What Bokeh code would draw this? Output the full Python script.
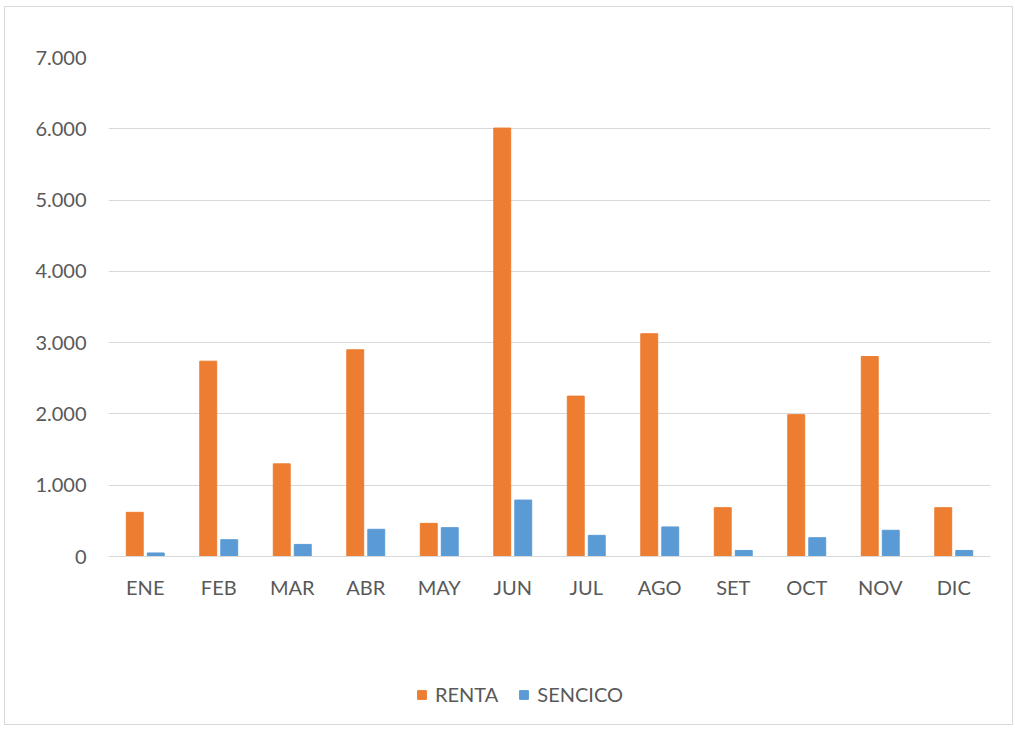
from bokeh.plotting import figure
from bokeh.models import ColumnDataSource, FactorRange, Legend, LegendItem, CustomJSTickFormatter, FixedTicker, Range1d
from bokeh.transform import dodge
from bokeh.embed import file_html
from bokeh.resources import INLINE

months = ["ENE", "FEB", "MAR", "ABR", "MAY", "JUN", "JUL", "AGO", "SET", "OCT", "NOV", "DIC"]
renta = [620, 2740, 1300, 2900, 465, 6010, 2250, 3125, 685, 1990, 2805, 685]
sencico = [50, 236, 170, 382, 405, 792, 297, 415, 85, 264, 368, 85]
y_ticks = [0, 1000, 2000, 3000, 4000, 5000, 6000, 7000]

src = ColumnDataSource(dict(m=months, renta=renta, sencico=sencico))

FONT = "Lato"
TXT = "#595959"
FS = "20px"

# frame extends below the zero baseline to leave room for the labels and legend
p = figure(x_range=FactorRange(*months), y_range=Range1d(-2216, 7000),
           width=1009, height=719, output_backend="svg", toolbar_location=None,
           min_border_left=103, min_border_right=24, min_border_top=50, min_border_bottom=12)
p.styles = {"border": "1px solid #d9d9d9", "margin-left": "4px", "margin-top": "6px"}
p.outline_line_color = None

r1 = p.vbar(x=dodge("m", -0.143, range=p.x_range), top="renta", width=0.23, source=src,
            fill_color="#ED7D31", line_color="#ED7D31")
r2 = p.vbar(x=dodge("m", 0.143, range=p.x_range), top="sencico", width=0.23, source=src,
            fill_color="#5B9BD5", line_color="#5B9BD5")

p.yaxis.ticker = FixedTicker(ticks=y_ticks)
p.yaxis.formatter = CustomJSTickFormatter(code="return tick.toFixed(0).replace(/\\B(?=(\\d{3})+(?!\\d))/g, '.');")
p.yaxis.axis_line_color = None
p.yaxis.major_tick_line_color = None
p.yaxis.minor_tick_line_color = None
p.yaxis.major_tick_out = 0
p.yaxis.major_label_text_font = FONT
p.yaxis.major_label_text_font_size = FS
p.yaxis.major_label_text_color = TXT
p.yaxis.major_label_standoff = 22

p.xaxis.fixed_location = 0
p.xaxis.axis_line_color = "#d9d9d9"
p.xaxis.axis_line_width = 1
p.xaxis.major_tick_line_color = None
p.xaxis.minor_tick_line_color = None
p.xaxis.major_tick_out = 0
p.xaxis.major_label_text_font = FONT
p.xaxis.major_label_text_font_size = FS
p.xaxis.major_label_text_color = TXT
p.xaxis.major_label_standoff = 18

p.xgrid.grid_line_color = None
p.ygrid.grid_line_color = "#d9d9d9"
p.ygrid.grid_line_width = 1
p.ygrid.ticker = FixedTicker(ticks=y_ticks)

legend = Legend(items=[LegendItem(label="RENTA", renderers=[r1]),
                       LegendItem(label="SENCICO", renderers=[r2])],
                orientation="horizontal", location=(308, 8),
                glyph_width=11, glyph_height=11, label_text_font=FONT,
                label_text_font_size=FS, label_text_color=TXT,
                border_line_color=None, background_fill_alpha=0,
                padding=0, margin=0, spacing=20, label_standoff=8)
p.add_layout(legend, "center")

open("out.html", "w").write(file_html(p, INLINE))
